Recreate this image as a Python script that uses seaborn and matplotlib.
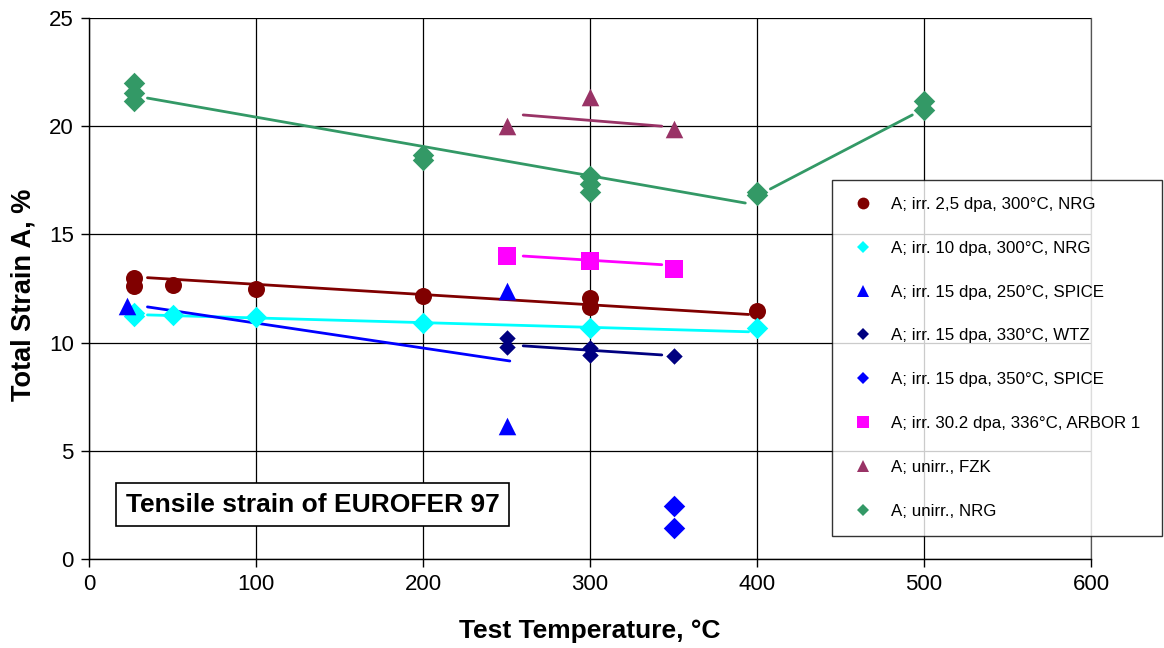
import numpy as np
import pandas as pd
import matplotlib
matplotlib.use("Agg")
import matplotlib.pyplot as plt
from matplotlib.lines import Line2D
import seaborn as sns

# ---- data ----
labels = [
    "A; irr. 2,5 dpa, 300°C, NRG",
    "A; irr. 10 dpa, 300°C, NRG",
    "A; irr. 15 dpa, 250°C, SPICE",
    "A; irr. 15 dpa, 330°C, WTZ",
    "A; irr. 15 dpa, 350°C, SPICE",
    "A; irr. 30.2 dpa, 336°C, ARBOR 1",
    "A; unirr., FZK",
    "A; unirr., NRG",
]

s1_x = [27, 27, 50, 100, 200, 300, 300, 400]
s1_y = [12.98, 12.6, 12.66, 12.48, 12.15, 12.08, 11.65, 11.46]
s2_x = [27, 27, 50, 100, 200, 300, 400]
s2_y = [11.35, 11.25, 11.28, 11.18, 10.9, 10.67, 10.67]
s3_x = [23, 250, 250]
s3_y = [11.7, 12.4, 6.15]
s4_x = [250, 250, 300, 300, 350]
s4_y = [10.2, 9.8, 9.75, 9.45, 9.4]
s5_x = [350, 350]
s5_y = [2.45, 1.45]
s6_x = [250, 300, 350]
s6_y = [14.02, 13.77, 13.42]
s7_x = [250, 300, 350]
s7_y = [20.0, 21.35, 19.85]
s8_x = [27, 27, 27, 200, 200, 300, 300, 300, 400, 400, 500, 500]
s8_y = [22.0, 21.55, 21.15, 18.67, 18.45, 17.7, 17.35, 16.95, 16.95, 16.8, 21.15, 20.75]

# trend line end points
t1_x, t1_y = [35, 395], [13.0, 11.3]
t2_x, t2_y = [35, 395], [11.28, 10.5]
t3_x, t3_y = [35, 252], [11.65, 9.15]
t4_x, t4_y = [260, 343], [9.85, 9.43]
t6_x, t6_y = [260, 343], [14.0, 13.6]
t7_x, t7_y = [260, 343], [20.52, 20.0]
t8a_x, t8a_y = [35, 393], [21.3, 16.45]
t8b_x, t8b_y = [408, 493], [17.1, 20.52]

x_ticks = [0, 100, 200, 300, 400, 500, 600]
y_ticks = [0, 5, 10, 15, 20, 25]

colors = ["#800000", "#00FFFF", "#0000FF", "#000080", "#0000FF", "#FF00FF", "#993366", "#339966"]
markers = ["o", "D", "^", "D", "D", "s", "^", "D"]
msizes = [150, 120, 160, 70, 120, 150, 160, 120]

sns.set_theme(style="white")
plt.rcParams["font.family"] = ["Liberation Sans", "DejaVu Sans"]
plt.rcParams["text.color"] = "black"
plt.rcParams["axes.labelcolor"] = "black"
plt.rcParams["xtick.color"] = "black"
plt.rcParams["ytick.color"] = "black"

fig = plt.figure(figsize=(11.64, 6.48), dpi=100)
ax = fig.add_axes([89 / 1164, 89 / 648, 1002 / 1164, 541 / 648])

series = [(s1_x, s1_y), (s2_x, s2_y), (s3_x, s3_y), (s4_x, s4_y),
          (s5_x, s5_y), (s6_x, s6_y), (s7_x, s7_y), (s8_x, s8_y)]
trends = [(t1_x, t1_y, 0), (t2_x, t2_y, 1), (t3_x, t3_y, 2), (t4_x, t4_y, 3),
          (t6_x, t6_y, 5), (t7_x, t7_y, 6), (t8a_x, t8a_y, 7), (t8b_x, t8b_y, 7)]

for tx, ty, ci in trends:
    sns.lineplot(x=tx, y=ty, color=colors[ci], lw=2.0, ax=ax, zorder=3)

for i, (sx, sy) in enumerate(series):
    sns.scatterplot(x=sx, y=sy, marker=markers[i], color=colors[i], s=msizes[i],
                    linewidth=0, ax=ax, zorder=4)

ax.set_xlim(0, 600)
ax.set_ylim(0, 25)
ax.set_xticks(x_ticks)
ax.set_yticks(y_ticks)
ax.tick_params(axis="both", labelsize=16, colors="black", direction="out",
               length=6, width=1, left=True, bottom=True, pad=5)
ax.grid(True, color="black", lw=0.9)
ax.set_axisbelow(True)
ax.spines["top"].set_visible(False)
ax.spines["right"].set_visible(True)
ax.spines["right"].set_color("#555555")
ax.spines["right"].set_linewidth(0.9)
for side in ["left", "bottom"]:
    ax.spines[side].set_color("black")
    ax.spines[side].set_linewidth(1.0)

ax.set_xlabel("Test Temperature, °C", fontsize=19, fontweight="bold", color="black")
ax.set_ylabel("Total Strain A, %", fontsize=19.5, fontweight="bold", color="black")
ax.xaxis.set_label_coords(0.5, -0.111)
ax.yaxis.set_label_coords(-0.052, 0.488)

ax.text(134, 2.5, "Tensile strain of EUROFER 97", fontsize=19, fontweight="bold",
        ha="center", va="center", zorder=6, color="black",
        bbox=dict(boxstyle="square,pad=0.36", facecolor="white", edgecolor="black", lw=1.2))

handles = [Line2D([], [], marker=markers[i], color=colors[i], linestyle="none",
                  markersize=(8.5 if markers[i] != "D" else 6.5), markeredgewidth=0)
           for i in range(8)]
leg = fig.legend(handles, labels, loc="upper left",
                 bbox_to_anchor=(832 / 1164, 1 - 180 / 648 - 0.1, 330 / 1164, 0.1),
                 mode="expand", fontsize=12.2, frameon=True, fancybox=False,
                 borderaxespad=0, borderpad=1.0, labelspacing=1.7,
                 handlelength=1.6, handletextpad=0.9)
leg.get_frame().set_edgecolor("black")
leg.get_frame().set_linewidth(1.0)
leg.set_zorder(10)
for t in leg.get_texts():
    t.set_color("black")

fig.savefig("out.png", dpi=100)
